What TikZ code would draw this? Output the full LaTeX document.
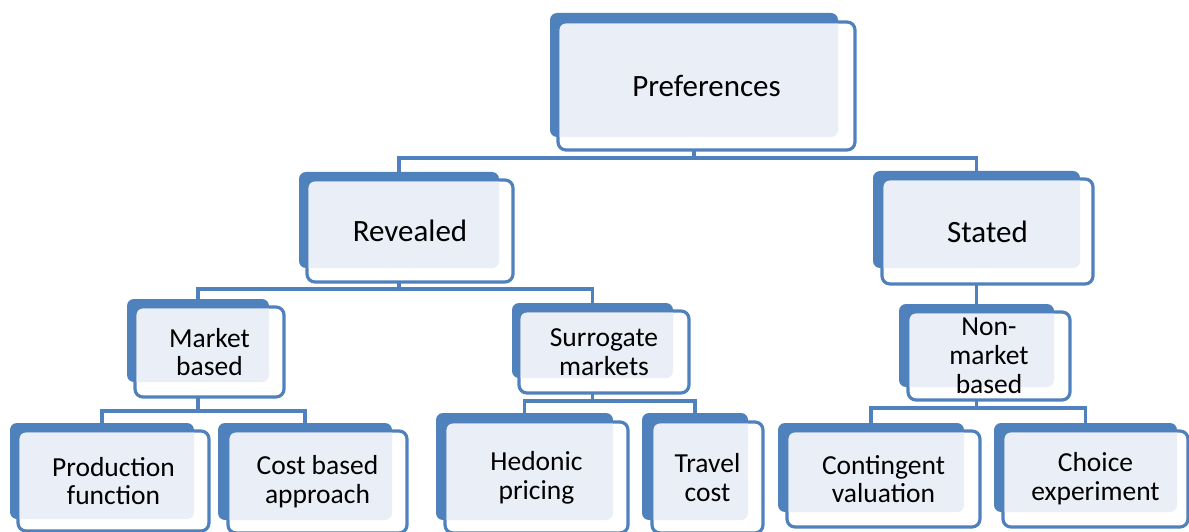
\documentclass[tikz,border=0pt]{standalone}
\usepackage{fontspec}
\setmainfont{Carlito}
\usetikzlibrary{calc,fit}
\definecolor{bluec}{HTML}{4F81BD}
\definecolor{lightc}{HTML}{EAEFF7}
\pgfdeclarelayer{bg}
\pgfsetlayers{bg,main}
\tikzset{
  bk/.style={fill=bluec, rounded corners=7pt},
  fr/.style={draw=bluec, fill=white, line width=3.2pt, rounded corners=8pt},
  lt/.style={fill=lightc, rounded corners=6pt},
  anchorbox/.style={inner sep=0pt, outer sep=0pt},
  big/.style={anchorbox, align=center, font=\fontsize{31}{36}\selectfont},
  small/.style={anchorbox, align=center, font=\fontsize{27.5}{28.8}\selectfont},
  conn/.style={draw=bluec, line width=3.4pt},
}
% #1 name, #2 #3 back corners, #4 #5 front corners, #6 text style, #7 text
\newcommand\dbox[7]{%
  \fill[bk] #2 rectangle #3;
  \node[anchorbox, fit={#2 #3}] (#1B) {};
  \draw[fr] #4 rectangle #5;
  \begin{scope}
    \clip[rounded corners=7pt] #2 rectangle #3;
    \fill[lt] ($#4+(1.6,1.6)$) rectangle ($#5+(-1.6,-1.6)$);
  \end{scope}
  \node[anchorbox, fit={#4 #5}] (#1) {};
  \node[#6] at (#1.center) {#7};
}
\begin{document}
\begin{tikzpicture}[x=1pt, y=-1pt]
\useasboundingbox (0,0) rectangle (1189,532);
\dbox{pref}{(550,13)}{(838,137)}{(558,22)}{(855,150)}{big}{Preferences}
\dbox{rev}{(299,172)}{(499,268)}{(307,180)}{(513,282)}{big}{Revealed}
\dbox{sta}{(873,171)}{(1080,268)}{(882,179)}{(1093,284)}{big}{Stated}
\dbox{mkt}{(127,299)}{(269,382)}{(135,307)}{(284,397)}{small}{Market\\based}
\dbox{sur}{(512,303)}{(673,378)}{(519,311)}{(689,393)}{small}{Surrogate\\markets}
\dbox{non}{(899,304)}{(1054,387)}{(908,312)}{(1070,400)}{small}{Non-\\market\\based}
\dbox{prod}{(10,423)}{(194,519)}{(18,431)}{(209,531)}{small}{Production\\function}
\dbox{cost}{(218,423)}{(392,520)}{(228,431)}{(407,533)}{small}{Cost based\\approach}
\dbox{hed}{(436,413)}{(613,520)}{(445,422)}{(628,533)}{small}{Hedonic\\pricing}
\dbox{trav}{(642,413)}{(748,520)}{(652,422)}{(763,533)}{small}{Travel\\cost}
\dbox{cont}{(778,423)}{(964,512)}{(787,431)}{(980,527)}{small}{Contingent\\valuation}
\dbox{cho}{(994,423)}{(1177,512)}{(1003,431)}{(1188,527)}{small}{Choice\\experiment}
\begin{pgfonlayer}{bg}
  \draw[conn] (prefB.south) -- ++(0,21) -| (revB.north);
  \draw[conn] (prefB.south) -- ++(0,21) -| (staB.north);
  \draw[conn] (revB.south) -- ++(0,21) -| (mktB.north);
  \draw[conn] (revB.south) -- ++(0,21) -| (surB.north);
  \draw[conn] (staB.south) -- (nonB.north);
  \draw[conn] (mktB.south) -- ++(0,29) -| (prodB.north);
  \draw[conn] (mktB.south) -- ++(0,29) -| (costB.north);
  \draw[conn] (surB.south) -- ++(0,23) -| (hedB.north);
  \draw[conn] (surB.south) -- ++(0,23) -| (travB.north);
  \draw[conn] (nonB.south) -- ++(0,21) -| (contB.north);
  \draw[conn] (nonB.south) -- ++(0,21) -| (choB.north);
\end{pgfonlayer}
\end{tikzpicture}
\end{document}
